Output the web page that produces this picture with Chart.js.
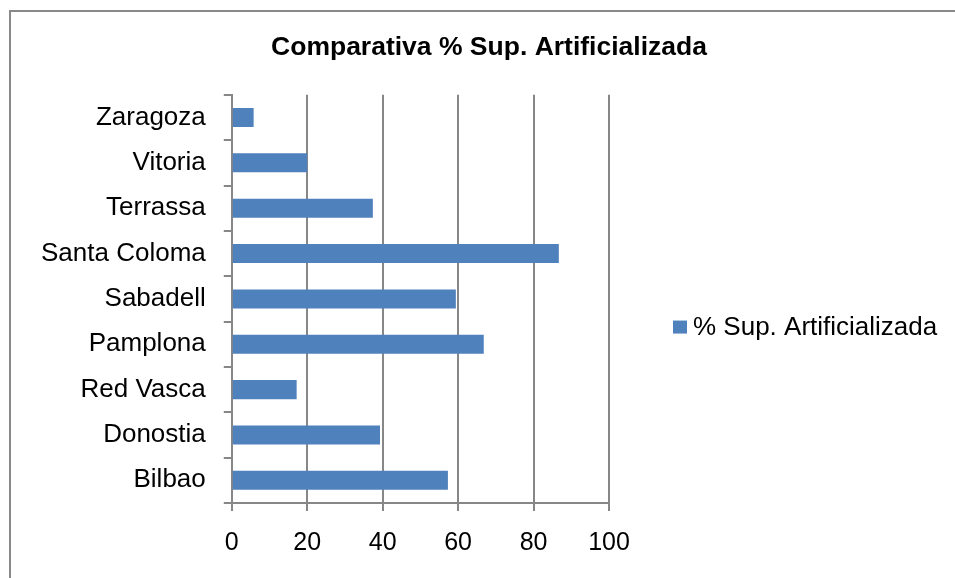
<!DOCTYPE html>
<html>
<head>
<meta charset="utf-8">
<title>Comparativa % Sup. Artificializada</title>
<script src="https://cdn.jsdelivr.net/npm/chart.js@4.4.1/dist/chart.umd.min.js"></script>
<style>
  html, body { margin: 0; padding: 0; background: #fff; overflow: hidden; }
  #wrap { position: relative; width: 955px; height: 578px; }
  #frame {
    position: absolute; left: 9px; top: 10px;
    width: 1000px; height: 1000px;
    border: 2px solid #898989; box-sizing: border-box;
  }
  #supChart { position: absolute; left: 0; top: 0; }
</style>
</head>
<body>
<div id="wrap">
  <div id="frame"></div>
  <canvas id="supChart" width="955" height="578"></canvas>
</div>
<script>
// Cities, bottom to top
const cities = ['Bilbao', 'Donostia', 'Red Vasca', 'Pamplona', 'Sabadell', 'Santa Coloma', 'Terrassa', 'Vitoria', 'Zaragoza'];
// % of artificialised surface per city
const supArtificial = [57.3, 39.3, 17.2, 66.8, 59.4, 86.7, 37.4, 20.0, 5.8];
const seriesName = '% Sup. Artificializada';
const chartTitle = 'Comparativa % Sup. Artificializada';
const xTicks = [0, 20, 40, 60, 80, 100];

const FONT = '"Liberation Sans", Arial, sans-serif';
const GRID = '#878787';
const LEGEND_SPACE = 346; // room kept free right of the plot for the legend

// Excel-style legend: small square + label, sitting to the right of the plot
const sideLegend = {
  id: 'sideLegend',
  afterDraw(chart) {
    const { ctx, chartArea } = chart;
    const ds = chart.data.datasets[0];
    const x = chartArea.right + 64;
    const y = chartArea.top + 0.569 * (chartArea.bottom - chartArea.top);
    ctx.save();
    ctx.fillStyle = ds.backgroundColor;
    ctx.fillRect(x, y - 6.5, 14, 13);
    ctx.fillStyle = '#000';
    ctx.font = '26px ' + FONT;
    ctx.textBaseline = 'middle';
    ctx.fillText(ds.label, x + 20, y + 1);
    ctx.restore();
  }
};

const ctx = document.getElementById('supChart').getContext('2d');
new Chart(ctx, {
  type: 'bar',
  data: {
    labels: cities,
    datasets: [{
      label: seriesName,
      data: supArtificial,
      backgroundColor: '#4F81BD',
      borderWidth: 0,
      barPercentage: 0.42,
      categoryPercentage: 1
    }]
  },
  options: {
    indexAxis: 'y',
    responsive: false,
    animation: false,
    layout: { padding: { left: 23, right: 0, top: 0, bottom: 3 } },
    scales: {
      x: {
        min: 0,
        max: 100,
        afterBuildTicks: axis => { axis.ticks = xTicks.map(v => ({ value: v })); },
        grid: { color: GRID, lineWidth: 2, tickLength: 8 },
        border: { color: GRID, width: 2 },
        ticks: { color: '#000', padding: 17, font: { family: FONT, size: 25 } }
      },
      y: {
        reverse: true,
        grid: { drawOnChartArea: false, color: GRID, lineWidth: 2, tickLength: 8 },
        border: { color: GRID, width: 2 },
        ticks: { color: '#000', padding: 18, font: { family: FONT, size: 26 } }
      },
      // empty right-hand axis that only reserves the legend column
      legendSpace: {
        axis: 'y',
        type: 'category',
        position: 'right',
        grid: { display: false },
        border: { display: false },
        ticks: { display: false },
        afterFit: scale => { scale.width = LEGEND_SPACE; }
      }
    },
    plugins: {
      title: {
        display: true,
        text: chartTitle,
        color: '#000',
        font: { family: FONT, size: 26.5, weight: 'bold' },
        padding: { top: 32, bottom: 31 }
      },
      legend: { display: false },
      tooltip: { enabled: false }
    }
  },
  plugins: [sideLegend]
});
</script>
</body>
</html>
